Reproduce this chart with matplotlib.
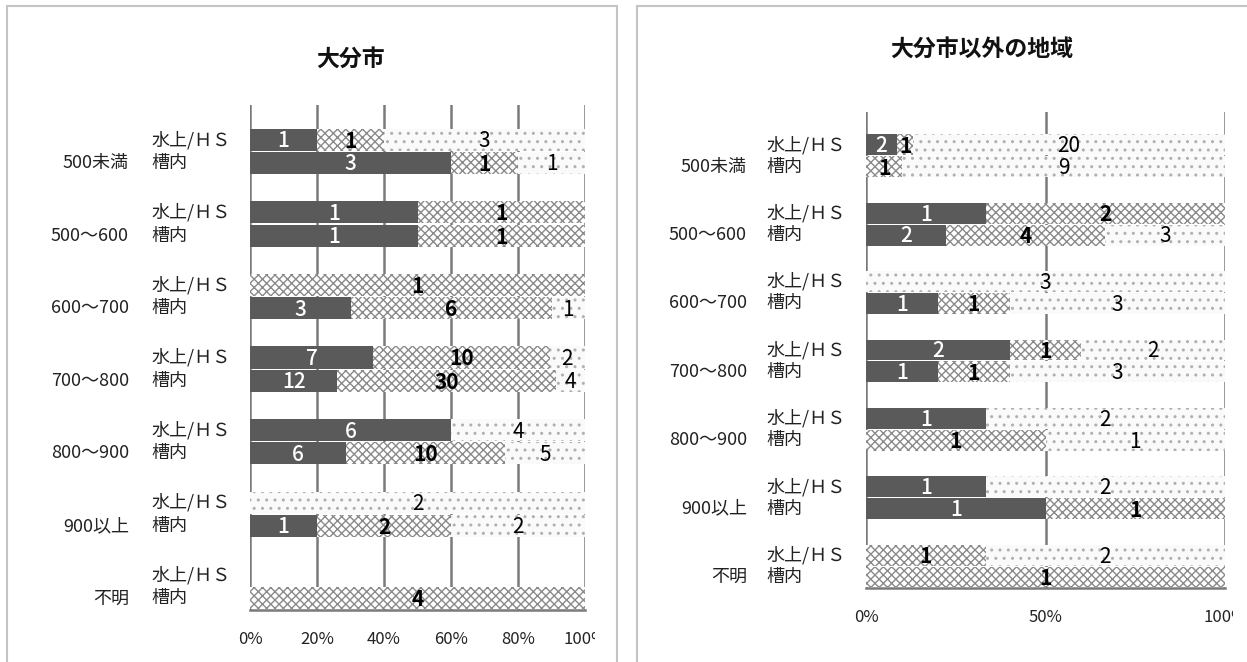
import matplotlib
matplotlib.use("Agg")
import matplotlib.pyplot as plt
import matplotlib.transforms as mtransforms
from matplotlib.patches import Rectangle

plt.rcParams['font.family'] = ['Noto Sans CJK JP', 'DejaVu Sans']

# size classes (top to bottom) and the two rows in each class
categories = ['500未満', '500～600', '600～700', '700～800', '800～900', '900以上', '不明']
row_labels = ['水上/ＨＳ', '槽内']

# 大分市: counts per series (dark / cross-hatch / dotted)
oita_hs_dark = [1, 1, 0, 7, 6, 0, 0]
oita_hs_cross = [1, 1, 1, 10, 0, 0, 0]
oita_hs_dot = [3, 0, 0, 2, 4, 2, 0]
oita_tank_dark = [3, 1, 3, 12, 6, 1, 0]
oita_tank_cross = [1, 1, 6, 30, 10, 2, 4]
oita_tank_dot = [1, 0, 1, 4, 5, 2, 0]

# 大分市以外の地域
other_hs_dark = [2, 1, 0, 2, 1, 1, 0]
other_hs_cross = [1, 2, 0, 1, 0, 0, 1]
other_hs_dot = [20, 0, 3, 2, 2, 2, 2]
other_tank_dark = [0, 2, 1, 1, 0, 1, 0]
other_tank_cross = [1, 4, 1, 1, 1, 1, 1]
other_tank_dot = [9, 3, 3, 3, 1, 0, 0]

W, H = 1247, 662
DARK = '#5a5a5a'
CROSS = '#8a8a8a'
DOT = '#b0b0b0'

fig = plt.figure(figsize=(W / 100, H / 100), dpi=100)
fig.patch.set_facecolor('white')

# panel frames
for x0, x1 in [(7, 617), (637, 1260)]:
    fig.patches.append(Rectangle((x0 / W, -0.05), (x1 - x0) / W, (H - 6) / H + 0.05,
                                 transform=fig.transFigure, fill=False,
                                 edgecolor='#c4c4c4', linewidth=1.5))


def draw_panel(rect_px, title, title_xy, ticks, series_hs, series_tank,
               inner_x, outer_x, clip_x):
    x0, x1, ytop, ybot = rect_px
    ax = fig.add_axes([x0 / W, (H - ybot) / H, (x1 - x0) / W, (ybot - ytop) / H])
    ax.set_xlim(0, 1)
    ax.set_ylim(6.96, 0)

    offsets = [0.48, 0.80]
    height = 0.305
    styles = [
        dict(color=DARK, hatch=None, txt='white', weight='medium'),
        dict(color=CROSS, hatch='xxxx', txt='black', weight='bold'),
        dict(color=DOT, hatch='..', txt='black', weight='normal'),
    ]

    for r, series in enumerate([series_hs, series_tank]):
        for i in range(len(categories)):
            vals = [s[i] for s in series]
            total = sum(vals)
            if total == 0:
                continue
            left = 0.0
            y = i + offsets[r]
            for v, st in zip(vals, styles):
                if v == 0:
                    continue
                w = v / total
                if st['hatch'] is None:
                    ax.barh(y, w, left=left, height=height, color=st['color'],
                            linewidth=0, zorder=2)
                else:
                    face = 'white' if st['hatch'] == 'xxxx' else '#fafafa'
                    ax.barh(y, w, left=left, height=height, facecolor=face,
                            edgecolor=st['color'], hatch=st['hatch'],
                            linewidth=0, zorder=2)
                ax.text(left + w / 2, y + 0.02, str(v), ha='center', va='center',
                        color=st['txt'], fontsize=15, fontweight=st['weight'],
                        zorder=4)
                left += w

    # category labels
    trans = mtransforms.blended_transform_factory(fig.transFigure, ax.transData)
    for i, cat in enumerate(categories):
        for r, lab in enumerate(row_labels):
            ax.text(inner_x / W, i + offsets[r], lab, transform=trans,
                    ha='left', va='center', fontsize=13, color='#222222')
        ax.text(outer_x / W, i + offsets[1], cat, transform=trans,
                ha='right', va='center', fontsize=13, color='#222222')

    ax.set_xticks(ticks)
    ax.set_xticklabels([f'{int(t * 100)}%' for t in ticks])
    ax.set_yticks([])
    ax.tick_params(axis='x', length=0, pad=15, labelsize=12, labelcolor='#222222')
    ax.grid(axis='x', color='#7a7a7a', linewidth=1.8, zorder=0)
    ax.set_axisbelow(True)
    for side in ['top', 'right', 'left']:
        ax.spines[side].set_visible(False)
    ax.spines['bottom'].set_color('#7a7a7a')
    ax.spines['bottom'].set_linewidth(1.8)

    clip = mtransforms.TransformedBbox(
        mtransforms.Bbox([[0, 0], [clip_x / W, 1]]), fig.transFigure)
    for lab in ax.get_xticklabels():
        lab.set_clip_on(True)
        lab.set_clip_box(clip)

    fig.text(title_xy[0] / W, 1 - title_xy[1] / H, title, ha='center', va='center',
             fontsize=16.5, fontweight='bold', color='#111111')
    return ax


draw_panel((250, 585, 105, 610), '大分市', (350, 59), [0, 0.2, 0.4, 0.6, 0.8, 1.0],
           [oita_hs_dark, oita_hs_cross, oita_hs_dot],
           [oita_tank_dark, oita_tank_cross, oita_tank_dot],
           inner_x=151, outer_x=129, clip_x=595)

draw_panel((866, 1225, 112, 588), '大分市以外の地域', (982, 49), [0, 0.5, 1.0],
           [other_hs_dark, other_hs_cross, other_hs_dot],
           [other_tank_dark, other_tank_cross, other_tank_dot],
           inner_x=766, outer_x=747, clip_x=1233)

fig.savefig('out.png', dpi=100)
